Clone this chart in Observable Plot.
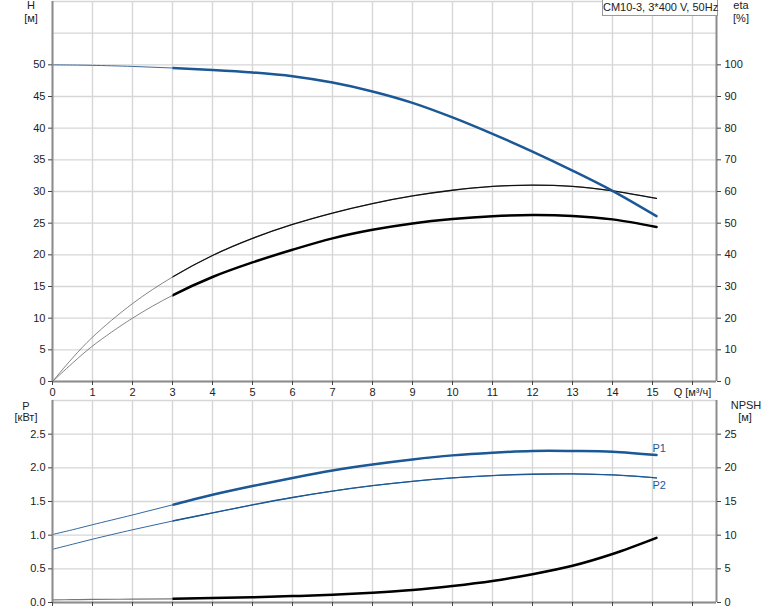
<!DOCTYPE html>
<html>
<head>
<meta charset="utf-8">
<script src="https://cdn.jsdelivr.net/npm/d3@7"></script>
<script src="https://cdn.jsdelivr.net/npm/@observablehq/plot@0.6"></script>
<style>
  html, body { margin: 0; padding: 0; background: #fff; }
  #chart { position: relative; width: 774px; height: 611px; font-family: "Liberation Sans", Arial, sans-serif; font-size: 11px; color: #222; }
  #chart svg { position: absolute; left: 0; background: transparent; }
  .lbl { position: absolute; white-space: nowrap; line-height: 1; }
  .box { position: absolute; left: 602px; top: -1px; width: 114px; height: 15px; border: 1px solid #9a9a9a; background: #fff; text-align: center; line-height: 15px; white-space: nowrap; }
</style>
</head>
<body>
<div id="chart"></div>
<script>
// ---- data ----
const Q       = [0, 0.5, 1, 2, 3, 4, 5, 6, 7, 8, 9, 10, 11, 12, 13, 14, 15.1];
const H       = [50.0, 49.97, 49.92, 49.75, 49.5, 49.2, 48.8, 48.2, 47.2, 45.8, 44.0, 41.7, 39.1, 36.3, 33.3, 30.1, 26.1];
const etaA    = [0, 7.4, 14.0, 24.6, 33.0, 39.8, 45.2, 49.6, 53.2, 56.2, 58.6, 60.4, 61.6, 62.0, 61.6, 60.2, 57.8];
const etaB    = [0, 5.8, 11.2, 20.0, 27.2, 33.0, 37.6, 41.6, 45.2, 47.9, 49.9, 51.3, 52.2, 52.6, 52.3, 51.2, 48.8];
const P1      = [1.01, 1.08, 1.155, 1.30, 1.45, 1.60, 1.73, 1.85, 1.96, 2.05, 2.125, 2.185, 2.225, 2.25, 2.25, 2.24, 2.19];
const P2      = [0.79, 0.865, 0.94, 1.08, 1.21, 1.33, 1.45, 1.56, 1.655, 1.735, 1.80, 1.85, 1.885, 1.905, 1.91, 1.895, 1.85];
const NPSH    = [0.4, 0.42, 0.45, 0.5, 0.55, 0.65, 0.78, 0.95, 1.15, 1.45, 1.85, 2.45, 3.2, 4.2, 5.45, 7.2, 9.6];

const xTicks   = [0, 1, 2, 3, 4, 5, 6, 7, 8, 9, 10, 11, 12, 13, 14, 15, 16];
const hTicks   = [0, 5, 10, 15, 20, 25, 30, 35, 40, 45, 50];
const hGrid    = [0, 5, 10, 15, 20, 25, 30, 35, 40, 45, 50, 55, 60];
const pTicks   = [0, 0.5, 1.0, 1.5, 2.0, 2.5];
const pGrid    = [0, 0.5, 1.0, 1.5, 2.0, 2.5, 3.0];
const qLabel   = "Q [м³/ч]";
const powerLabels = ["P1", "P2"];
const title    = "CM10-3, 3*400 V, 50Hz";
const qOperating = 3; // curves drawn heavy from here on

const qMax = 16.6, hMax = 60, pMax = 3;
const blue = "#1b5895", gridC = "#d6d6d6", axisC = "#8c8c8c";
const W_HEAVY = 2.5, W_MED = 1.3, W_MED2 = 1.35;
const heavyWidths = [W_HEAVY, W_MED, W_MED2];

const rows = Q.map((q, i) => ({q, h: H[i], ea: etaA[i] / 2, eb: etaB[i] / 2, p1: P1[i], p2: P2[i], npsh: NPSH[i] / 10}));
const curve = "catmull-rom";
const font = {fontFamily: "'Liberation Sans', Arial, sans-serif", fontSize: "11px", color: "#222", background: "transparent", overflow: "visible"};

const topPlot = Plot.plot({
  width: 774, height: 398, marginLeft: 52, marginRight: 58, marginTop: 1, marginBottom: 17,
  x: {domain: [0, qMax]}, y: {domain: [0, hMax]},
  style: font,
  marks: [
    Plot.ruleX(xTicks, {stroke: gridC, strokeWidth: 1.4}),
    Plot.ruleY(hGrid, {stroke: gridC, strokeWidth: 1.4}),
    Plot.line(rows, {x: "q", y: "ea", curve, stroke: "#666", strokeWidth: 0.8}),
    Plot.line(rows, {x: "q", y: "ea", curve, stroke: "#111", strokeWidth: W_MED}),
    Plot.line(rows, {x: "q", y: "eb", curve, stroke: "#666", strokeWidth: 0.8}),
    Plot.line(rows, {x: "q", y: "eb", curve, stroke: "#000", strokeWidth: W_HEAVY}),
    Plot.line(rows, {x: "q", y: "h", curve, stroke: "#3e6a9e", strokeWidth: 1}),
    Plot.line(rows, {x: "q", y: "h", curve, stroke: blue, strokeWidth: W_HEAVY}),
    Plot.ruleX([0, qMax], {stroke: axisC, strokeWidth: 2}),
    Plot.ruleY([0], {stroke: axisC, strokeWidth: 2}),
    Plot.axisY(hTicks, {anchor: "left", tickSize: 4, tickPadding: 3, label: null, stroke: "#444"}),
    Plot.axisY(hTicks, {anchor: "right", tickSize: 4, tickPadding: 4, label: null, stroke: "#444", tickFormat: d => d * 2}),
    Plot.axisX(xTicks, {anchor: "bottom", tickSize: 4, tickPadding: 3, label: null, stroke: "#444", tickFormat: d => d === 16 ? qLabel : d})
  ]
});
topPlot.style.top = "0px";

const bottomPlot = Plot.plot({
  width: 774, height: 213, marginLeft: 52, marginRight: 58, marginTop: 2, marginBottom: 9,
  x: {domain: [0, qMax]}, y: {domain: [0, pMax]},
  style: font,
  marks: [
    Plot.ruleX(xTicks, {stroke: gridC, strokeWidth: 1.4}),
    Plot.ruleY(pGrid, {stroke: gridC, strokeWidth: 1.4}),
    Plot.line(rows, {x: "q", y: "npsh", curve, stroke: "#777", strokeWidth: 1.2}),
    Plot.line(rows, {x: "q", y: "npsh", curve, stroke: "#000", strokeWidth: W_HEAVY}),
    Plot.line(rows, {x: "q", y: "p2", curve, stroke: blue, strokeWidth: 0.9}),
    Plot.line(rows, {x: "q", y: "p2", curve, stroke: blue, strokeWidth: W_MED2}),
    Plot.line(rows, {x: "q", y: "p1", curve, stroke: blue, strokeWidth: 0.9}),
    Plot.line(rows, {x: "q", y: "p1", curve, stroke: blue, strokeWidth: W_HEAVY}),
    Plot.text([rows[rows.length - 1]], {x: "q", y: "p1", text: () => powerLabels[0], dx: -4, dy: -7, textAnchor: "start", fill: blue, fontSize: 11}),
    Plot.text([rows[rows.length - 1]], {x: "q", y: "p2", text: () => powerLabels[1], dx: -4, dy: 8, textAnchor: "start", fill: blue, fontSize: 11}),
    Plot.ruleX([0, qMax], {stroke: axisC, strokeWidth: 2}),
    Plot.ruleY([0], {stroke: axisC, strokeWidth: 2}),
    Plot.axisY(pTicks, {anchor: "left", tickSize: 4, tickPadding: 3, label: null, stroke: "#444", tickFormat: d3.format(".1f")}),
    Plot.axisY(pTicks, {anchor: "right", tickSize: 4, tickPadding: 4, label: null, stroke: "#444", tickFormat: d => Math.round(d * 10)}),
    Plot.axisX(xTicks, {anchor: "bottom", tickSize: 4, label: null, stroke: "#444", tickFormat: () => ""})
  ]
});
bottomPlot.style.top = "398px";

// heavy strokes start at the operating range: clip those lines to q >= qOperating
function clipHeavy(svg, id) {
  const x0 = svg.scale("x").apply(qOperating);
  const ns = "http://www.w3.org/2000/svg";
  const defs = document.createElementNS(ns, "defs");
  const cp = document.createElementNS(ns, "clipPath");
  cp.setAttribute("id", id);
  const r = document.createElementNS(ns, "rect");
  r.setAttribute("x", x0);
  r.setAttribute("y", -20);
  r.setAttribute("width", 1000);
  r.setAttribute("height", 1000);
  cp.appendChild(r);
  defs.appendChild(cp);
  svg.insertBefore(defs, svg.firstChild);
  svg.querySelectorAll('g[fill="none"]').forEach(g => {
    const w = +g.getAttribute("stroke-width");
    if (heavyWidths.includes(w)) g.setAttribute("clip-path", `url(#${id})`);
  });
}
clipHeavy(topPlot, "clipTop");
clipHeavy(bottomPlot, "clipBottom");

const chart = document.getElementById("chart");
chart.appendChild(topPlot);
chart.appendChild(bottomPlot);

function label(text, cx, cy) {
  const el = document.createElement("div");
  el.className = "lbl";
  el.textContent = text;
  el.style.left = cx + "px";
  el.style.top = cy + "px";
  el.style.transform = "translate(-50%, -50%)";
  chart.appendChild(el);
}
label("H", 31, 5);
label("[м]", 31, 18);
label("eta", 741, 5);
label("[%]", 741, 18);
label("P", 26, 406);
label("[кВт]", 26, 417);
label("NPSH", 746, 405);
label("[м]", 745, 417);

const box = document.createElement("div");
box.className = "box";
box.textContent = title;
chart.appendChild(box);
</script>
</body>
</html>
